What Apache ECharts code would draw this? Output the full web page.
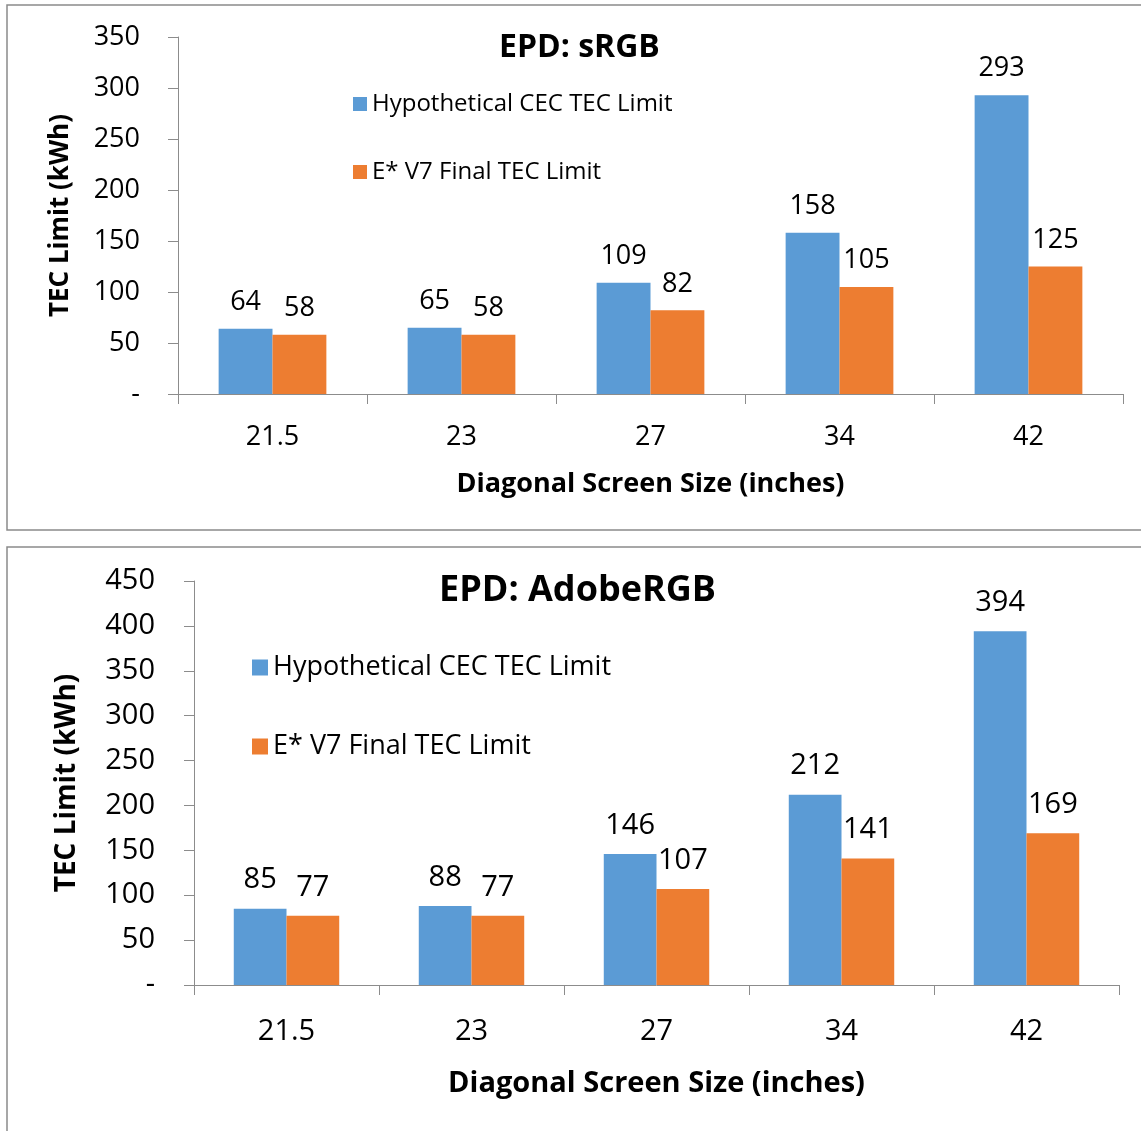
<!DOCTYPE html>
<html>
<head>
<meta charset="utf-8">
<script src="https://cdn.jsdelivr.net/npm/echarts@6/dist/echarts.min.js"></script>
<style>
html,body{margin:0;padding:0;background:#fff;}
#c{width:1141px;height:1131px;}
</style>
</head>
<body>
<div id="c"></div>
<script>
const categories = ['21.5', '23', '27', '34', '42'];
const seriesNames = ['Hypothetical CEC TEC Limit', 'E* V7 Final TEC Limit'];
const srgbCEC = [64, 65, 109, 158, 293];
const srgbE7 = [58, 58, 82, 105, 125];
const adobeCEC = [85, 88, 146, 212, 394];
const adobeE7 = [77, 77, 107, 141, 169];
const titles = ['EPD: sRGB', 'EPD: AdobeRGB'];
const xName = 'Diagonal Screen Size (inches)';
const yName = 'TEC Limit (kWh)';

const FONT = '"Open Sans", "Noto Sans", sans-serif';
const BLUE = '#5B9BD5', ORANGE = '#ED7D31', AXIS = '#8c8c8c';

const chart = echarts.init(document.getElementById('c'), null, {renderer: 'canvas'});

function xAxis(gi, fs, nfs, margin, nameGap) {
  return {
    type: 'category', gridIndex: gi, data: categories,
    axisLine: {lineStyle: {color: AXIS, width: 1}},
    axisTick: {show: true, length: 10, lineStyle: {color: AXIS}},
    axisLabel: {color: '#000', fontSize: fs, fontFamily: FONT, margin: margin},
    name: xName, nameLocation: 'middle', nameGap: nameGap,
    nameTextStyle: {color: '#000', fontSize: nfs, fontWeight: 'bold', fontFamily: FONT}
  };
}
function yAxis(gi, max, fs, nfs, margin, nameGap) {
  return {
    type: 'value', gridIndex: gi, min: 0, max: max, interval: 50,
    splitLine: {show: false},
    axisLine: {show: true, lineStyle: {color: AXIS, width: 1}},
    axisTick: {show: true, length: 10, lineStyle: {color: AXIS}},
    axisLabel: {color: '#000', fontSize: fs, fontFamily: FONT, margin: margin,
      formatter: v => v === 0 ? '-' : String(v)},
    name: yName, nameLocation: 'middle', nameGap: nameGap, nameRotate: 90,
    nameTextStyle: {color: '#000', fontSize: nfs, fontWeight: 'bold', fontFamily: FONT}
  };
}
function bar(name, data, color, gi, fs, dist) {
  return {
    type: 'bar', name: name, data: data, xAxisIndex: gi, yAxisIndex: gi,
    itemStyle: {color: color}, barGap: '0%', barCategoryGap: '43%',
    label: {show: true, position: 'top', distance: dist, color: '#000', fontSize: fs, fontFamily: FONT},
    emphasis: {disabled: true}
  };
}

chart.setOption({
  animation: false,
  backgroundColor: '#fff',
  graphic: [
    {type: 'rect', shape: {x: 7, y: 5, width: 1200, height: 525}, style: {fill: 'none', stroke: '#8a8a8a', lineWidth: 1.5}, silent: true, z: -10},
    {type: 'rect', shape: {x: 7, y: 547, width: 1200, height: 700}, style: {fill: 'none', stroke: '#8a8a8a', lineWidth: 1.5}, silent: true, z: -10}
  ],
  title: [
    {text: titles[0], left: 494, top: 27, textStyle: {fontSize: 32, fontWeight: 'bold', fontFamily: FONT, color: '#000'}},
    {text: titles[1], left: 434, top: 568, textStyle: {fontSize: 36, fontWeight: 'bold', fontFamily: FONT, color: '#000'}}
  ],
  legend: [
    {data: seriesNames, orient: 'vertical', left: 348, top: 87, itemWidth: 14, itemHeight: 14, itemGap: 44,
      icon: 'rect', selectedMode: false,
      textStyle: {fontSize: 24, fontFamily: FONT, color: '#000'}},
    {data: seriesNames, orient: 'vertical', left: 247, top: 649, itemWidth: 16, itemHeight: 16, itemGap: 52,
      icon: 'rect', selectedMode: false,
      textStyle: {fontSize: 27, fontFamily: FONT, color: '#000'}}
  ],
  grid: [
    {left: 178, top: 37, width: 945, height: 357, containLabel: false},
    {left: 194, top: 581, width: 925, height: 404, containLabel: false}
  ],
  xAxis: [xAxis(0, 27, 27, 30, 77), xAxis(1, 29, 29, 32, 84)],
  yAxis: [yAxis(0, 350, 27, 26, 38, 104), yAxis(1, 450, 29, 28, 39, 113)],
  series: [
    bar(seriesNames[0], srgbCEC, BLUE, 0, 27, 13),
    bar(seriesNames[1], srgbE7, ORANGE, 0, 27, 13),
    bar(seriesNames[0], adobeCEC, BLUE, 1, 29, 14),
    bar(seriesNames[1], adobeE7, ORANGE, 1, 29, 14)
  ]
});
</script>
</body>
</html>
